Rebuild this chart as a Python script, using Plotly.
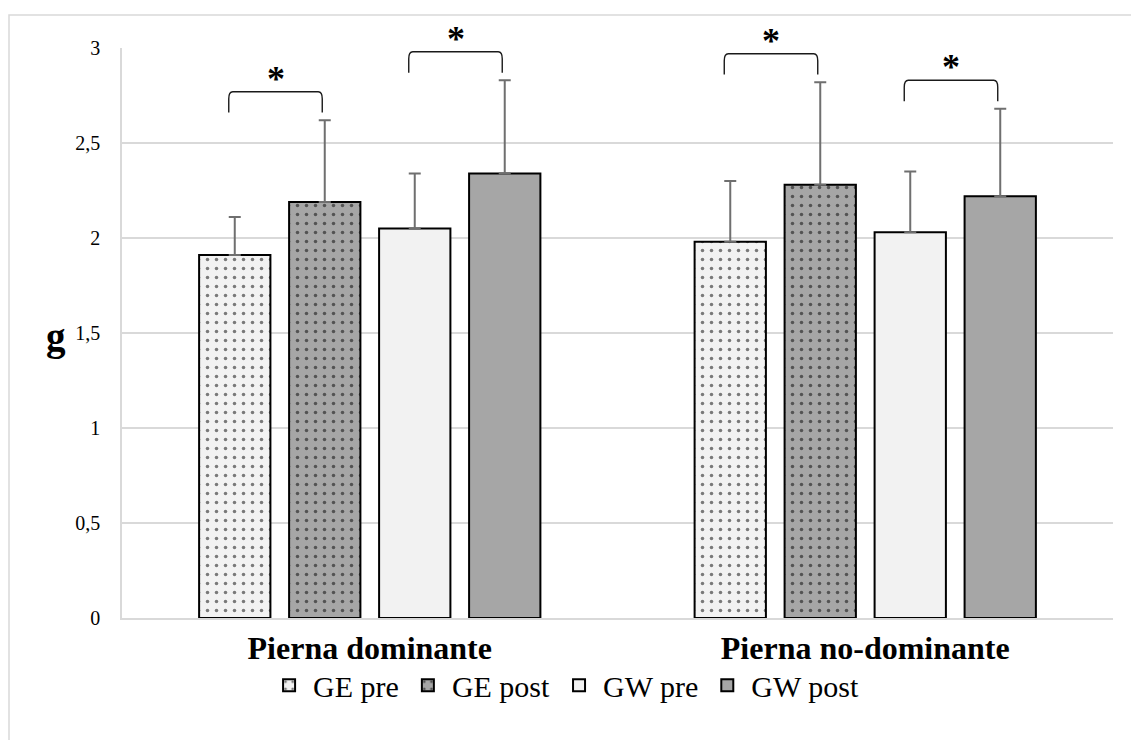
import plotly.graph_objects as go

# ---------------- data ----------------
categories = ["Pierna dominante", "Pierna no-dominante"]
series_names = ["GE pre", "GE post", "GW pre", "GW post"]
ge_pre = [1.91, 1.98]
ge_post = [2.19, 2.28]
gw_pre = [2.05, 2.03]
gw_post = [2.34, 2.22]
ge_pre_sd = [0.20, 0.32]
ge_post_sd = [0.43, 0.54]
gw_pre_sd = [0.29, 0.32]
gw_post_sd = [0.49, 0.46]
y_tickvals = [0, 0.5, 1, 1.5, 2, 2.5, 3]
# significant comparisons: (category index, series a, series b)
sig_pairs = [(0, 0, 1), (0, 2, 3), (1, 0, 1), (1, 2, 3)]
sig_label = "*"
y_title = "g"

means = [ge_pre, ge_post, gw_pre, gw_post]
sds = [ge_pre_sd, ge_post_sd, gw_pre_sd, gw_post_sd]

# ---------------- style ----------------
FONT = "Liberation Serif, Times New Roman, serif"
fills = ["#f2f2f2", "#a6a6a6", "#f2f2f2", "#a6a6a6"]
patterns = [".", ".", "", ""]
W, H = 1131, 740
ML, MR, MT, MB = 122, 18, 48, 122
BARGAP = 0.2735
BARGROUPGAP = 0.2077
XR = [-0.5, 1.5]
YR = [0, 3]
upx = (XR[1] - XR[0]) / (W - ML - MR)   # x units per pixel
vpx = (YR[1] - YR[0]) / (H - MT - MB)   # y units per pixel

fig = go.Figure()
xs = list(range(len(categories)))
for k, name in enumerate(series_names):
    fig.add_trace(go.Bar(
        x=xs, y=means[k], name=name,
        marker=dict(color=fills[k], line=dict(color="#000000", width=2),
                    pattern=dict(shape=patterns[k], fgcolor="#000000", bgcolor=fills[k],
                                 size=9, solidity=0.12)),
        error_y=dict(type="data", symmetric=False, array=sds[k],
                     arrayminus=[0] * len(sds[k]), color="#6f6f6f",
                     thickness=2, width=6),
    ))

slot = (1 - BARGAP) / len(series_names)

def center(c, k):
    return c + (k - (len(series_names) - 1) / 2) * slot

shapes = []
annotations = []
for c, a, b in sig_pairs:
    base = max(means[a][c] + sds[a][c], means[b][c] + sds[b][c]) + 0.04
    top = base + 0.11
    x0 = center(c, a) - 6 * upx
    x1 = center(c, b) - 2.5 * upx
    dx = 4 * upx
    ry = 7 * vpx
    path = (f"M {x0},{base} L {x0},{top - ry} Q {x0},{top} {x0 + dx},{top} "
            f"L {x1 - dx},{top} Q {x1},{top} {x1},{top - ry} L {x1},{base}")
    shapes.append(dict(type="path", path=path, xref="x", yref="y",
                       line=dict(color="#1a1a1a", width=1.4)))
    annotations.append(dict(x=(x0 + x1) / 2, y=top, xref="x", yref="y",
                            text=f"<b>{sig_label}</b>", showarrow=False, yanchor="bottom",
                            yshift=-9, font=dict(family=FONT, size=36, color="#000000")))

# outer chart frame
shapes.append(dict(type="rect", xref="paper", yref="paper",
                   x0=(9 - ML) / (W - ML - MR), x1=1.05,
                   y0=-0.3, y1=(H - MB - 15) / (H - MT - MB),
                   line=dict(color="#d9d9d9", width=1.5), layer="below"))

annotations.append(dict(x=0, y=0.5, xref="paper", yref="paper", text=f"<b>{y_title}</b>",
                        showarrow=False, xanchor="center", yanchor="middle",
                        xshift=-66, yshift=-4,
                        font=dict(family=FONT, size=39, color="#000000")))

fig.update_layout(
    width=W, height=H,
    margin=dict(l=ML, r=MR, t=MT, b=MB),
    paper_bgcolor="#ffffff", plot_bgcolor="#ffffff",
    barmode="group", bargap=BARGAP, bargroupgap=BARGROUPGAP,
    separators=",.",
    font=dict(family=FONT, color="#000000"),
    showlegend=True,
    legend=dict(orientation="h", x=0.4466, xanchor="center", y=-0.118, yanchor="middle",
                font=dict(family=FONT, size=30, color="#000000"),
                itemwidth=38, traceorder="normal",
                bgcolor="rgba(0,0,0,0)"),
    shapes=shapes,
    annotations=annotations,
    xaxis=dict(range=XR, tickvals=xs, ticktext=[f"<b>{c}</b>" for c in categories],
               showgrid=False, zeroline=False, showline=True, linecolor="#d9d9d9",
               linewidth=1.5, ticks="", ticklabelstandoff=1,
               tickfont=dict(family=FONT, size=32, color="#000000")),
    yaxis=dict(range=YR, tickvals=y_tickvals, showgrid=True, gridcolor="#d9d9d9",
               gridwidth=1.5, zeroline=False, showline=True, linecolor="#d9d9d9",
               linewidth=1.5, ticks="", ticklabelstandoff=16,
               tickfont=dict(family=FONT, size=20, color="#000000")),
)

fig.write_html("out.html")
